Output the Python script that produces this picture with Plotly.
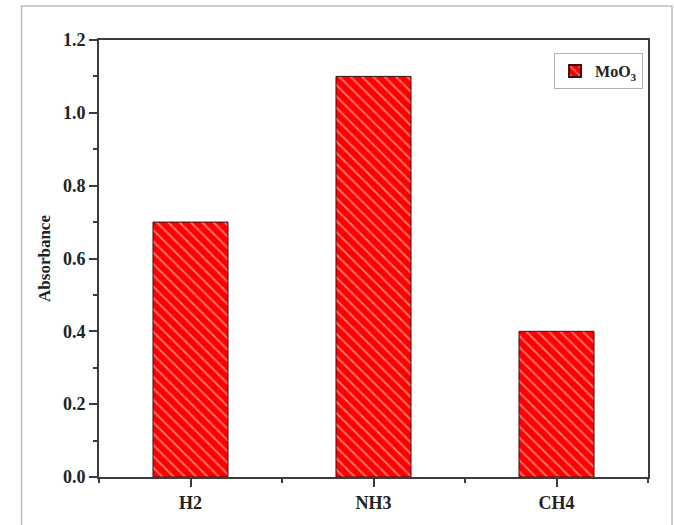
import plotly.graph_objects as go

categories = ["H2", "NH3", "CH4"]
absorbance = [0.70, 1.10, 0.40]
series_name = "MoO<sub>3</sub>"
y_ticks = [0.0, 0.2, 0.4, 0.6, 0.8, 1.0, 1.2]

x_pos = list(range(len(categories)))

fig = go.Figure()
fig.add_trace(go.Bar(
    x=x_pos, y=absorbance, name=series_name, width=0.41,
    marker=dict(
        color="#ff0000",
        line=dict(color="#3a1010", width=1),
        pattern=dict(shape="\\", fgcolor="#ffe2e2", bgcolor="#ff0000",
                     size=8, solidity=0.24, fillmode="overlay"),
    ),
    showlegend=True,
))

font_family = "Liberation Serif, Times New Roman, serif"
axis_col = "#3c3c3c"

fig.update_layout(
    width=674, height=525,
    margin=dict(l=99, r=26, t=40, b=48),
    paper_bgcolor="white", plot_bgcolor="white",
    font=dict(family=font_family, color="#222222"),
    showlegend=True,
    legend=dict(
        x=0.991, y=0.970, xanchor="right", yanchor="top",
        bordercolor="#b0b0b0", borderwidth=1, bgcolor="white",
        font=dict(family=font_family, size=16, weight="bold", color="#222222"),
        itemsizing="constant",
    ),
    xaxis=dict(
        range=[-0.5, 2.5],
        tickmode="array", tickvals=x_pos, ticktext=categories,
        tickfont=dict(family=font_family, size=18, weight="bold", color="#222222"),
        ticks="outside", ticklen=8, tickwidth=1.5, tickcolor=axis_col,
        minor=dict(tickmode="linear", tick0=0.5, dtick=1, ticks="outside",
                   ticklen=4, tickwidth=1.5, tickcolor=axis_col),
        showline=True, linecolor=axis_col, linewidth=2, mirror=True,
        showgrid=False, zeroline=False,
    ),
    yaxis=dict(
        range=[0, 1.2],
        tickmode="array", tickvals=y_ticks,
        ticktext=[f"{v:.1f}" for v in y_ticks],
        tickfont=dict(family=font_family, size=18, weight="bold", color="#222222"),
        ticks="outside", ticklen=8, tickwidth=1.5, tickcolor=axis_col,
        minor=dict(tickmode="linear", tick0=0.1, dtick=0.2, ticks="outside",
                   ticklen=4, tickwidth=1.5, tickcolor=axis_col),
        showline=True, linecolor=axis_col, linewidth=2, mirror=True,
        showgrid=False, zeroline=False,
        title=dict(text="Absorbance", standoff=8,
                   font=dict(family=font_family, size=17, weight="bold", color="#222222")),
    ),
)

# light outer frame of the original figure image
fig.add_shape(type="rect", xref="paper", yref="paper",
              x0=-0.141, x1=1.0437, y0=-0.3, y1=1.078,
              line=dict(color="#bdbdbd", width=1.5), layer="below")

fig.write_html("out.html", config={"displayModeBar": False},
               post_script="document.body.style.margin='0px';")
